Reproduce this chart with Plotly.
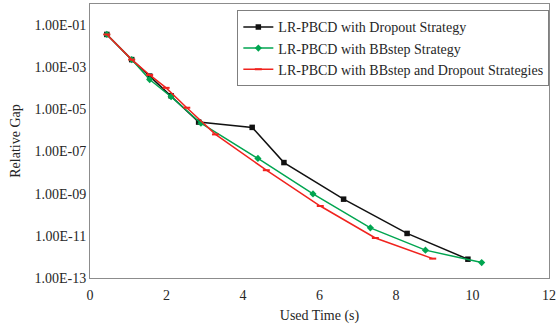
import plotly.graph_objects as go

# Data
dropout_x = [0.44, 1.09, 1.56, 2.12, 2.84, 4.24, 5.07, 6.63, 8.29, 9.88]
dropout_y = [3.6e-2, 2.3e-3, 3.8e-4, 4.4e-5, 2.5e-6, 1.4e-6, 3.0e-8, 5.5e-10, 1.3e-11, 7.8e-13]

bbstep_x = [0.44, 1.09, 1.56, 2.12, 2.90, 4.39, 5.83, 7.33, 8.77, 10.24]
bbstep_y = [3.6e-2, 2.3e-3, 2.6e-4, 4.0e-5, 2.2e-6, 4.7e-8, 9.8e-10, 2.4e-11, 2.1e-12, 5.4e-13]

both_x = [0.44, 1.09, 1.56, 1.99, 2.53, 3.28, 4.61, 6.02, 7.46, 8.96]
both_y = [3.6e-2, 2.3e-3, 4.3e-4, 1.05e-4, 1.2e-5, 6.5e-7, 1.3e-8, 2.6e-10, 7.9e-12, 8.3e-13]

series_names = [
    "LR-PBCD with Dropout Strategy",
    "LR-PBCD with BBstep Strategy",
    "LR-PBCD with BBstep and Dropout Strategies",
]

y_tickvals = [1e-1, 1e-3, 1e-5, 1e-7, 1e-9, 1e-11, 1e-13]
y_ticktext = ["1.00E-01", "1.00E-03", "1.00E-05", "1.00E-07", "1.00E-09", "1.00E-11", "1.00E-13"]
x_tickvals = [0, 2, 4, 6, 8, 10, 12]

FONT = "Liberation Serif"
TXT = "#262626"
GRID = "#8c8c8c"
FS = 14

fig = go.Figure()
fig.add_trace(go.Scatter(
    x=dropout_x, y=dropout_y, mode="lines+markers", name=series_names[0],
    legendgroup="a",
    line=dict(color="#111111", width=1.5),
    marker=dict(symbol="square", size=5.5, color="#111111"),
))
fig.add_trace(go.Scatter(
    x=bbstep_x, y=bbstep_y, mode="lines+markers", name=series_names[1],
    legendgroup="b",
    line=dict(color="#00a550", width=1.5),
    marker=dict(symbol="diamond", size=5.5, color="#00a550"),
))
fig.add_trace(go.Scatter(
    x=both_x, y=both_y, mode="lines+markers", name=series_names[2],
    legendgroup="c",
    line=dict(color="#f0231e", width=1.5),
    marker=dict(symbol="line-ew", size=5, color="#f0231e",
                line=dict(color="#f0231e", width=2)),
))

fig.update_layout(
    width=557, height=325,
    margin=dict(l=90, r=8, t=4, b=47),
    paper_bgcolor="white", plot_bgcolor="white",
    font=dict(family=FONT, size=FS, color=TXT),
    showlegend=True,
    legend=dict(
        x=0.321, y=0.977, xanchor="left", yanchor="top",
        bordercolor="#7f7f7f", borderwidth=1, bgcolor="white",
        font=dict(family=FONT, size=FS, color=TXT),
        tracegroupgap=8,
        traceorder="normal",
    ),
    xaxis=dict(
        range=[0, 12], tickvals=x_tickvals, showgrid=False, zeroline=False,
        showline=True, linecolor=GRID, linewidth=1, mirror=True,
        ticks="", automargin=False, ticklabelstandoff=4,
        title=dict(text="Used Time (s)", standoff=8, font=dict(size=FS)),
        tickfont=dict(size=FS),
    ),
    yaxis=dict(
        type="log", range=[-13, 0], tickvals=y_tickvals, ticktext=y_ticktext,
        showgrid=False, zeroline=False,
        showline=True, linecolor=GRID, linewidth=1, mirror=True,
        ticks="", automargin=False,
        title=dict(text="Relative Gap", standoff=10, font=dict(size=FS)),
        tickfont=dict(size=FS),
    ),
)

fig.write_html("out.html")
